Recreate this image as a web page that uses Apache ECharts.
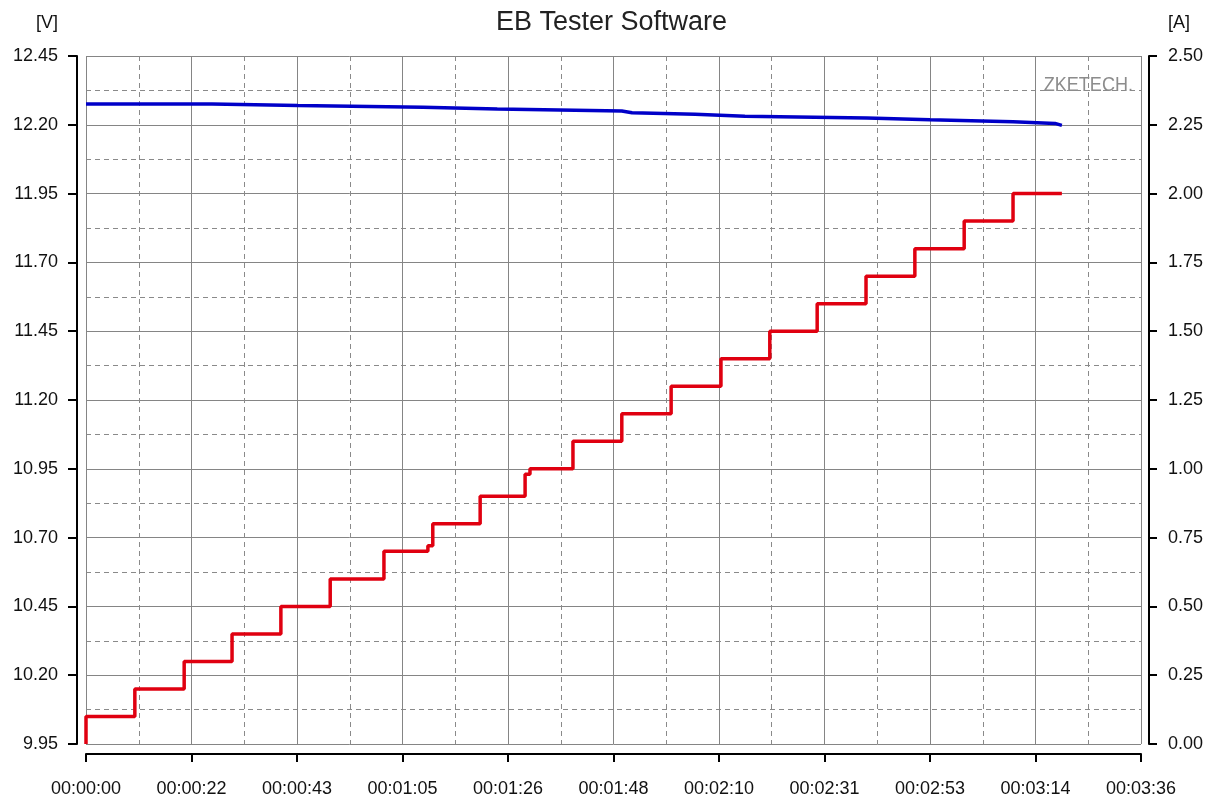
<!DOCTYPE html>
<html lang="en">
<head>
    <meta charset="UTF-8">
    <title>EB Tester Software</title>
    <script src="https://cdn.jsdelivr.net/npm/echarts@6/dist/echarts.min.js"></script>
    <style>
        html, body { margin: 0; padding: 0; background: #fff; }
        #chart { width: 1214px; height: 800px; }
    </style>
</head>
<body>
    <div id="chart"></div>
    <script>
        // time in seconds, voltage in V, current in A
        const voltTimes = [0, 25.8, 43.4, 69.0, 84.2, 109.7, 111.8, 124.7, 134.9, 159.9, 172.8, 189.8, 198.4, 199.8];
        const voltValues = [12.276, 12.270, 12.264, 12.257, 12.250, 12.244, 12.238, 12.231, 12.225, 12.218, 12.211, 12.205, 12.198, 12.198];

        const currTimes = [0, 0, 10.0, 20.1, 29.9, 39.9, 50.0, 61.0, 70.0, 71.0, 80.7, 89.9, 90.9, 99.7, 109.7, 119.8, 130.0, 140.0, 149.7, 159.7, 169.7, 179.8, 189.8, 199.8];
        const currValues = [0, 0.10, 0.20, 0.30, 0.40, 0.50, 0.60, 0.70, 0.72, 0.80, 0.90, 0.98, 1.00, 1.10, 1.20, 1.30, 1.40, 1.50, 1.60, 1.70, 1.80, 1.90, 2.00, 2.00];

        const xTickLabels = ['00:00:00', '00:00:22', '00:00:43', '00:01:05', '00:01:26', '00:01:48',
            '00:02:10', '00:02:31', '00:02:53', '00:03:14', '00:03:36'];

        const font = 'Liberation Sans, Arial, sans-serif';
        const gridSolid = { color: '#858585', width: 1 };
        const gridDash = { color: '#8a8a8a', width: 1, type: [5, 4] };

        function zip(a, b) {
            return a.map((v, i) => [v, b[i]]);
        }

        const chart = echarts.init(document.getElementById('chart'));
        chart.setOption({
            animation: false,
            backgroundColor: '#fff',
            title: {
                text: 'EB Tester Software',
                left: 496,
                top: 9,
                padding: 0,
                textStyle: { fontFamily: font, fontSize: 27, fontWeight: 'normal', color: '#222' }
            },
            grid: { left: 86, right: 73, top: 56, bottom: 56 },
            xAxis: {
                type: 'value',
                min: 0,
                max: 216,
                interval: 21.6,
                offset: 10,
                axisLine: { show: true, onZero: false, lineStyle: { color: '#000', width: 2 } },
                axisTick: { show: true, length: 8, lineStyle: { color: '#000', width: 2 } },
                axisLabel: {
                    margin: 26,
                    fontFamily: font, fontSize: 18, color: '#111',
                    formatter: (v, i) => xTickLabels[i]
                },
                splitLine: { show: true, lineStyle: gridSolid },
                minorTick: { show: false, splitNumber: 2 },
                minorSplitLine: { show: true, lineStyle: gridDash }
            },
            yAxis: [{
                type: 'value',
                position: 'left',
                min: 9.95,
                max: 12.45,
                interval: 0.25,
                offset: 9,
                axisLine: { show: true, onZero: false, lineStyle: { color: '#000', width: 2 } },
                axisTick: { show: true, length: 9, lineStyle: { color: '#000', width: 2 } },
                axisLabel: {
                    margin: 19,
                    fontFamily: font, fontSize: 18, color: '#111',
                    formatter: v => v.toFixed(2)
                },
                splitLine: { show: true, lineStyle: gridSolid },
                minorTick: { show: false, splitNumber: 2 },
                minorSplitLine: { show: true, lineStyle: gridDash }
            }, {
                type: 'value',
                position: 'right',
                min: 0,
                max: 2.5,
                interval: 0.25,
                offset: 8,
                axisLine: { show: true, onZero: false, lineStyle: { color: '#000', width: 2 } },
                axisTick: { show: true, length: 8, lineStyle: { color: '#000', width: 2 } },
                axisLabel: {
                    margin: 19,
                    fontFamily: font, fontSize: 18, color: '#111',
                    formatter: v => v.toFixed(2)
                },
                splitLine: { show: false }
            }],
            graphic: [
                { type: 'text', x: 47, y: 23, style: { text: '[V]', font: '18px ' + font, fill: '#111', align: 'center', verticalAlign: 'middle' } },
                { type: 'text', x: 1179, y: 23, style: { text: '[A]', font: '18px ' + font, fill: '#111', align: 'center', verticalAlign: 'middle' } },
                { type: 'text', x: 1133, y: 85, scaleX: 0.86, z: 1, style: { text: 'ZKETECH.', font: '21px ' + font, fill: '#8c8c8c', align: 'right', verticalAlign: 'middle' } }
            ],
            series: [{
                name: 'Voltage',
                type: 'line',
                yAxisIndex: 0,
                step: 'end',
                showSymbol: false,
                lineStyle: { color: '#0000c8', width: 3.5 },
                data: zip(voltTimes, voltValues),
                z: 3
            }, {
                name: 'Current',
                type: 'line',
                yAxisIndex: 1,
                step: 'end',
                showSymbol: false,
                lineStyle: { color: '#e00010', width: 3.5 },
                data: zip(currTimes, currValues),
                z: 3
            }]
        });
    </script>
</body>
</html>
